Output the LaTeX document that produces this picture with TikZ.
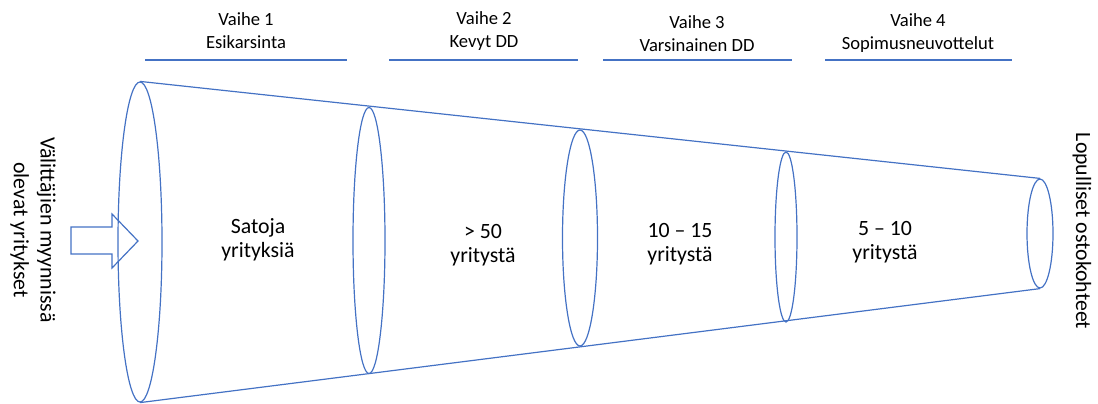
\documentclass[tikz,border=0pt]{standalone}
\usepackage{fontspec}
\setmainfont{Carlito}
\usepackage{tikz}
\usetikzlibrary{shapes.geometric}

\definecolor{funnelblue}{RGB}{68,114,196}

\begin{document}
\begin{tikzpicture}[
    x=0.5pt, y=-0.5pt,
    ring/.style={ellipse, draw=funnelblue, line width=0.6pt, inner sep=0pt},
    edge/.style={draw=funnelblue, line width=0.6pt},
    phase/.style={align=center, font=\fontsize{9.3}{11.4}\selectfont},
    count/.style={align=center, font=\fontsize{10.9}{12.2}\selectfont},
    side/.style={align=center, rotate=-90, font=\fontsize{10.9}{13.4}\selectfont}
]
\useasboundingbox (0,0) rectangle (1098,403);

% funnel rings
\node[ring, minimum width=22pt, minimum height=160pt] (e1) at (140,242) {};
\node[ring, minimum width=16pt, minimum height=133pt] (e2) at (369,240.5) {};
\node[ring, minimum width=17.5pt, minimum height=108pt] (e3) at (580,238) {};
\node[ring, minimum width=11pt, minimum height=85pt] (e4) at (786,237) {};
\node[ring, minimum width=13pt, minimum height=54.5pt] (e5) at (1040,233.5) {};

\draw[edge] (e1.north) -- (e5.north);
\draw[edge] (e1.south) -- (e5.south);

% phases
\node[phase] (v1) at (246,31) {Vaihe 1\\Esikarsinta};
\node[phase] (v2) at (484,31) {Vaihe 2\\Kevyt DD};
\node[phase] (v3) at (697,34) {Vaihe 3\\Varsinainen DD};
\node[phase] (v4) at (918,33) {Vaihe 4\\Sopimusneuvottelut};

\draw[edge] (145,60) -- (347,60);
\draw[edge] (389,60) -- (578,60);
\draw[edge] (603,60) -- (792,60);
\draw[edge] (825,60) -- (1012,60);

% counts
\node[count] (c1) at (258,240) {Satoja\\yrityksiä};
\node[count] (c2) at (483,245) {> 50\\yritystä};
\node[count] (c3) at (680,244) {10 – 15\\yritystä};
\node[count] (c4) at (885,242) {5 – 10\\yritystä};

% in and out
\node[side] (src) at (33,230) {Välittäjien myynnissä\\olevat yritykset};
\node[side] (dst) at (1082,231) {Lopulliset ostokohteet};

\draw[edge, line join=miter] (71,227) -- (112,227) -- (112,214) -- (138,241)
    -- (112,268) -- (112,254) -- (71,254) -- cycle;

\end{tikzpicture}
\end{document}
